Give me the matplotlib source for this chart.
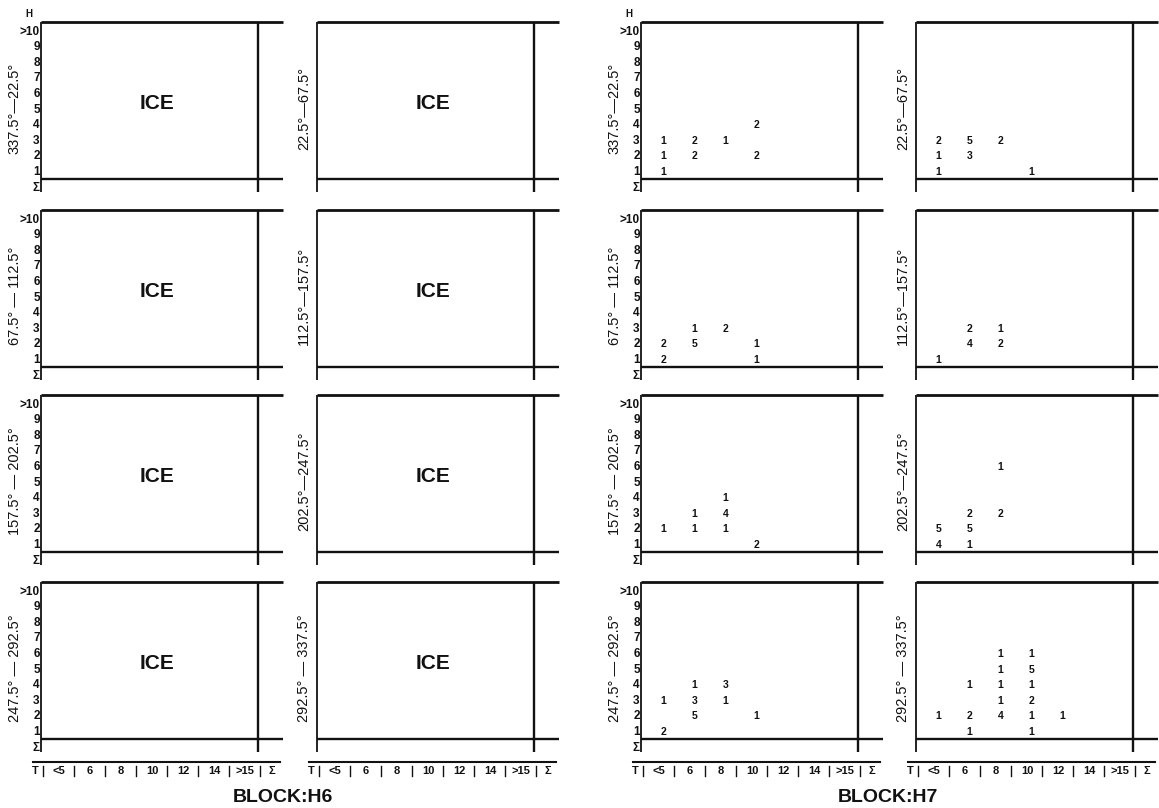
import matplotlib.pyplot as plt

plt.rcParams['font.family'] = ['Liberation Sans', 'DejaVu Sans']

# classes on the two axes of every panel
t_cls = ['<5', '6', '8', '10', '12', '14', '>15']
h_cls = ['Σ', '1', '2', '3', '4', '5', '6', '7', '8', '9', '>10']

# direction sectors, left / right column of each block
sect_left = ['337.5°—22.5°', '67.5° — 112.5°', '157.5° — 202.5°', '247.5° — 292.5°']
sect_right = ['22.5°—67.5°', '112.5°—157.5°', '202.5°—247.5°', '292.5° — 337.5°']

# block H7 counts: (T class, H class, count)
h7_337_22 = [('<5', 3, 1), ('<5', 2, 1), ('<5', 1, 1), ('6', 3, 2), ('6', 2, 2),
             ('8', 3, 1), ('10', 4, 2), ('10', 2, 2)]
h7_22_67 = [('<5', 3, 2), ('<5', 2, 1), ('<5', 1, 1), ('6', 3, 5), ('6', 2, 3),
            ('8', 3, 2), ('10', 1, 1)]
h7_67_112 = [('<5', 2, 2), ('<5', 1, 2), ('6', 3, 1), ('6', 2, 5), ('8', 3, 2),
             ('10', 2, 1), ('10', 1, 1)]
h7_112_157 = [('<5', 1, 1), ('6', 3, 2), ('6', 2, 4), ('8', 3, 1), ('8', 2, 2)]
h7_157_202 = [('<5', 2, 1), ('6', 3, 1), ('6', 2, 1), ('8', 4, 1), ('8', 3, 4),
              ('8', 2, 1), ('10', 1, 2)]
h7_202_247 = [('<5', 2, 5), ('<5', 1, 4), ('6', 3, 2), ('6', 2, 5), ('6', 1, 1),
              ('8', 6, 1), ('8', 3, 2)]
h7_247_292 = [('<5', 3, 1), ('<5', 1, 2), ('6', 4, 1), ('6', 3, 3), ('6', 2, 5),
              ('8', 4, 3), ('8', 3, 1), ('10', 2, 1)]
h7_292_337 = [('<5', 2, 1), ('6', 4, 1), ('6', 2, 2), ('6', 1, 1),
              ('8', 6, 1), ('8', 5, 1), ('8', 4, 1), ('8', 3, 1), ('8', 2, 4),
              ('10', 6, 1), ('10', 5, 5), ('10', 4, 1), ('10', 3, 2), ('10', 2, 1),
              ('10', 1, 1), ('12', 2, 1)]

h7_left = [h7_337_22, h7_67_112, h7_157_202, h7_247_292]
h7_right = [h7_22_67, h7_112_157, h7_202_247, h7_292_337]

W, H = 1159, 808
UX, UY = 31, 15.6
row_b = [179, 367, 552, 739]          # bottom line of each row (px from top)
col_l = {'H6': [41, 317], 'H7': [641, 916]}
ink = '#111111'

fig = plt.figure(figsize=(W / 100, H / 100), dpi=100)


def panel(L, B):
    ax = fig.add_axes([L / W, (H - (B + 0.85 * UY)) / H, 7.8 * UX / W, 10.9 * UY / H])
    ax.set_xlim(0, 7.8)
    ax.set_ylim(-0.3, 10.6)
    ax.axis('off')
    kw = dict(color=ink, clip_on=False, solid_capstyle='butt')
    ax.plot([0, 0], [-0.3, 10.6], lw=1.3, **kw)
    ax.plot([0, 7.8], [10.6, 10.6], lw=2.0, **kw)
    ax.plot([7, 7], [-0.3, 10.6], lw=1.7, **kw)
    ax.plot([0, 7.8], [0.55, 0.55], lw=1.7, **kw)
    return ax


for block in ['H6', 'H7']:
    for c in range(2):
        for r in range(4):
            ax = panel(col_l[block][c], row_b[r])
            if c == 0:
                for i, lab in enumerate(h_cls):
                    ax.text(-0.04, i, lab, ha='right', va='center', fontsize=8.5,
                            fontweight='bold', color=ink, clip_on=False)
                if r == 0:
                    ax.text(-0.38, 11.1, 'H', ha='center', va='center', fontsize=7,
                            fontweight='bold', color=ink, clip_on=False)
                ax.text(-0.85, 5.1, sect_left[r], rotation=90, ha='center', va='center',
                        fontsize=10.5, color=ink, clip_on=False)
            else:
                ax.text(-0.42, 5.1, sect_right[r], rotation=90, ha='center', va='center',
                        fontsize=10.5, color=ink, clip_on=False)

            if block == 'H6':
                ax.text(3.75, 5.4, 'ICE', ha='center', va='center', fontsize=15,
                        fontweight='bold', color=ink)
            else:
                cells = h7_left[r] if c == 0 else h7_right[r]
                for t, h, n in cells:
                    ax.text(t_cls.index(t) + 0.72, h, str(n), ha='center', va='center',
                            fontsize=7.5, fontweight='bold', color=ink, clip_on=False)

            if r == 3:
                # T class strip under the bottom row
                ax.plot([-0.26, 7.7], [-0.92, -0.92], color=ink, lw=1.5, clip_on=False)
                for k in range(8):
                    ax.plot([k + 0.07, k + 0.07], [-1.2, -1.85], color=ink, lw=1.0,
                            clip_on=False)
                ax.text(-0.19, -1.52, 'T', ha='center', va='center', fontsize=8,
                        fontweight='bold', color=ink, clip_on=False)
                for k, lab in enumerate(t_cls):
                    ax.text(k + 0.58, -1.52, lab, ha='center', va='center', fontsize=8,
                            fontweight='bold', color=ink, clip_on=False)
                ax.text(7.45, -1.52, 'Σ', ha='center', va='center', fontsize=8,
                        fontweight='bold', color=ink, clip_on=False)

fig.text(283 / W, 1 - 797 / H, 'BLOCK:H6', ha='center', va='center', fontsize=14,
         fontweight='bold', color=ink)
fig.text(888 / W, 1 - 797 / H, 'BLOCK:H7', ha='center', va='center', fontsize=14,
         fontweight='bold', color=ink)

fig.savefig('out.png', dpi=100, facecolor='white')
